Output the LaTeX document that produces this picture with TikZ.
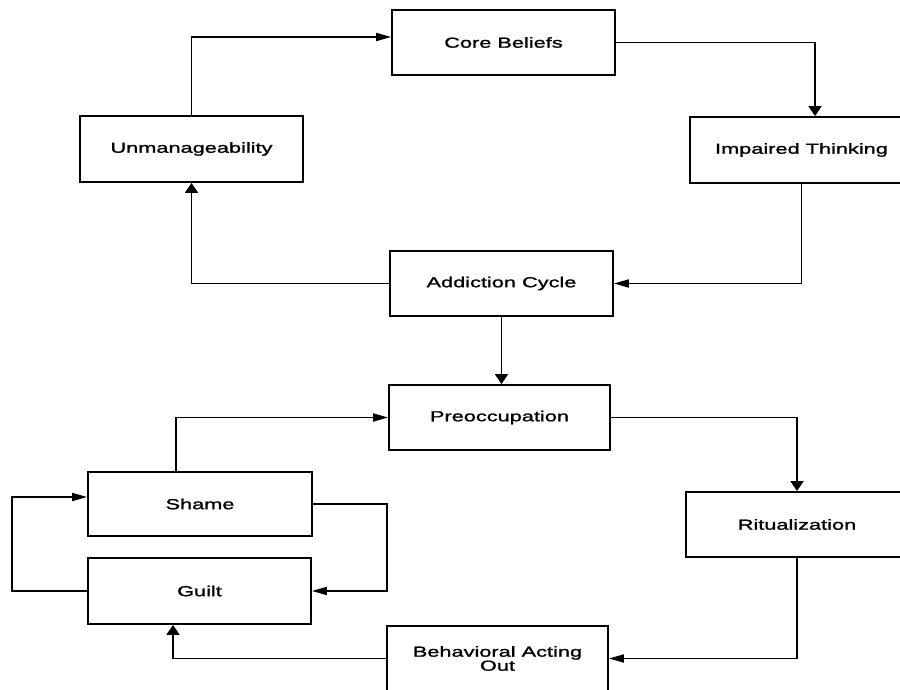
\documentclass[tikz,border=0pt]{standalone}
\usepackage{fontspec}
\setmainfont{Liberation Sans}[FakeStretch=1.5,FakeBold=1.3]
\usetikzlibrary{arrows.meta}
\tikzset{
  box/.style={draw, line width=1.8pt, rectangle, inner sep=0pt,
    minimum width=223pt, minimum height=65pt,
    font=\fontsize{14.5}{14}\selectfont, align=center},
  link/.style={line width=1.8pt},
  harr/.style={link, -{Triangle[length=15pt,width=8pt]}},
  varr/.style={link, -{Triangle[length=10pt,width=13pt]}},
}
\begin{document}
\begin{tikzpicture}[x=1pt,y=-1pt]
\useasboundingbox (0,0) rectangle (900,690);
\clip (0,0) rectangle (900,690);
\node[box] (cb)  at (503.5,42.5) {Core Beliefs};
\node[box, minimum height=66pt] (un)  at (191.5,149) {Unmanageability};
\node[box, minimum height=66pt] (it)  at (801.5,150) {Impaired Thinking};
\node[box] (ac)  at (501.5,283.5) {Addiction Cycle};
\node[box, minimum width=221pt] (pr)  at (499.5,417.5) {Preoccupation};
\node[box, minimum width=224pt, minimum height=64pt] (sh)  at (200,504) {Shame};
\node[box, minimum height=66pt] (gu)  at (199.5,591) {Guilt};
\node[box, minimum width=222pt] (ri)  at (797,524.5) {Ritualization};
\node[box, minimum width=221pt] (bao) at (497.5,658.5) {Behavioral Acting\\Out};

\draw[harr] (un.north) |- (cb.west |- 0,37);
\draw[varr] (cb.east) -| (815,0 |- it.north);
\draw[harr] (it.south) |- (ac.east);
\draw[varr] (ac.west) -| (un.south);
\draw[varr] (ac.south) -- (ac.south |- pr.north);
\draw[varr] (pr.east) -| (ri.north);
\draw[harr] (ri.south) |- (bao.east);
\draw[varr] (bao.west) -| (173,0 |- gu.south);
\draw[harr] (sh.north -| 176,0) |- (pr.west);
\coordinate (rloop) at (387,504);
\coordinate (lloop) at (12,591);
\draw[harr] (sh.east) -- (rloop) |- (gu.east);
\draw[harr] (gu.west) -- (lloop) |- (sh.west |- 0,497);
\end{tikzpicture}
\end{document}
